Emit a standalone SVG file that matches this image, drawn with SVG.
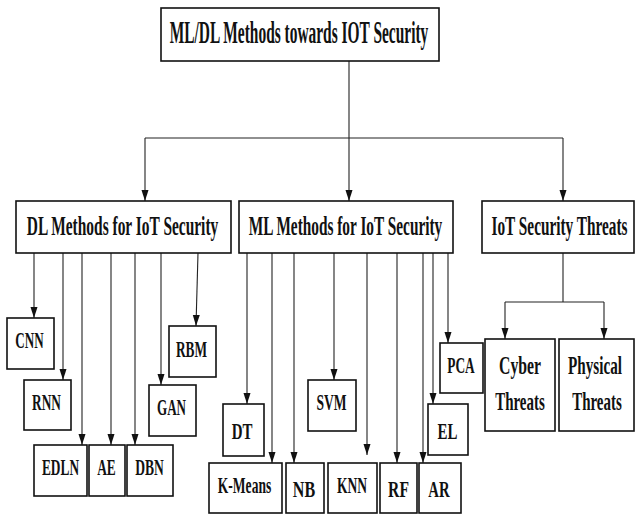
<svg xmlns="http://www.w3.org/2000/svg" width="635" height="515" viewBox="0 0 635 515">
<style>
.box{fill:#fff;stroke:#111;stroke-width:1.6}
.t{font-family:"Liberation Serif","Times New Roman",serif;font-weight:bold;fill:#111;text-anchor:middle}
.h1{font-size:31px}
.h2{font-size:27px}
.c{font-size:23px}
.c2{font-size:25px}
.ln{fill:none;stroke:#222;stroke-width:1.1}
.ar{marker-end:url(#ah)}
</style>
<defs>
<marker id="ah" markerUnits="userSpaceOnUse" markerWidth="12" markerHeight="8" refX="11" refY="3.5" orient="auto">
<path d="M0,0 L11,3.5 L0,7 z" fill="#111"/>
</marker>
</defs>
<g id="connectors">
<path class="ln" d="M349,61 V138"/>
<path class="ln" d="M145,138 H563"/>
<path class="ln ar" d="M145,138 V201"/>
<path class="ln ar" d="M349,138 V201"/>
<path class="ln ar" d="M563,138 V201"/>
<path class="ln ar" d="M34,253 V318"/>
<path class="ln ar" d="M63,253 V380"/>
<path class="ln ar" d="M82,253 V445"/>
<path class="ln ar" d="M111,253 V445"/>
<path class="ln ar" d="M135,253 V445"/>
<path class="ln ar" d="M161,253 V385"/>
<path class="ln ar" d="M198,253 L196,326"/>
<path class="ln ar" d="M247,253 V404"/>
<path class="ln ar" d="M272,253 V463"/>
<path class="ln ar" d="M294,253 V463"/>
<path class="ln ar" d="M334,253 V380"/>
<path class="ln ar" d="M367,253 V455"/>
<path class="ln ar" d="M397,253 V463"/>
<path class="ln ar" d="M423,253 V463"/>
<path class="ln ar" d="M433,253 V404"/>
<path class="ln ar" d="M448,253 V343"/>
<path class="ln" d="M563,253 V302"/>
<path class="ln" d="M505,302 H604"/>
<path class="ln ar" d="M505,302 V339"/>
<path class="ln ar" d="M604,302 V339"/>
</g>
<g id="root"><rect class="box" x="161" y="8" width="278" height="53"/><text class="t h1" transform="translate(299,43) scale(0.498,1)">ML/DL Methods towards IOT Security</text></g>
<g id="dl"><rect class="box" x="16" y="201" width="215" height="52"/><text class="t h2" transform="translate(122.5,235) scale(0.572,1)">DL Methods for IoT Security</text></g>
<g id="ml"><rect class="box" x="239" y="201" width="214" height="52"/><text class="t h2" transform="translate(345.5,235) scale(0.568,1)">ML Methods for IoT Security</text></g>
<g id="threats"><rect class="box" x="482" y="201" width="152" height="52"/><text class="t h2" transform="translate(559.5,235) scale(0.567,1)">IoT Security Threats</text></g>
<g id="cnn"><rect class="box" x="7" y="318" width="47" height="51"/><text class="t c" transform="translate(29.5,348) scale(0.57,1)">CNN</text></g>
<g id="rnn"><rect class="box" x="24" y="380" width="47" height="50"/><text class="t c" transform="translate(46.5,410) scale(0.58,1)">RNN</text></g>
<g id="edln"><rect class="box" x="34" y="445" width="53" height="51"/><text class="t c" transform="translate(60.5,475) scale(0.58,1)">EDLN</text></g>
<g id="ae"><rect class="box" x="89" y="445" width="36" height="51"/><text class="t c" transform="translate(106.5,475) scale(0.58,1)">AE</text></g>
<g id="dbn"><rect class="box" x="127" y="445" width="46" height="51"/><text class="t c" transform="translate(149.5,475) scale(0.59,1)">DBN</text></g>
<g id="gan"><rect class="box" x="149" y="385" width="47" height="51"/><text class="t c" transform="translate(171.5,415) scale(0.57,1)">GAN</text></g>
<g id="rbm"><rect class="box" x="169" y="326" width="47" height="51"/><text class="t c" transform="translate(191.5,357) scale(0.58,1)">RBM</text></g>
<g id="dt"><rect class="box" x="223" y="404" width="41" height="52"/><text class="t c" transform="translate(242,439) scale(0.65,1)">DT</text></g>
<g id="kmeans"><rect class="box" x="209" y="463" width="73" height="50"/><text class="t c" transform="translate(244.5,493) scale(0.59,1)">K-Means</text></g>
<g id="nb"><rect class="box" x="286" y="463" width="38" height="50"/><text class="t c" transform="translate(304,497) scale(0.7,1)">NB</text></g>
<g id="knn"><rect class="box" x="328" y="463" width="49" height="50"/><text class="t c" transform="translate(352,493) scale(0.59,1)">KNN</text></g>
<g id="rf"><rect class="box" x="380" y="463" width="37" height="50"/><text class="t c" transform="translate(398.5,497) scale(0.68,1)">RF</text></g>
<g id="ar"><rect class="box" x="419" y="463" width="42" height="50"/><text class="t c" transform="translate(439,497) scale(0.64,1)">AR</text></g>
<g id="svm"><rect class="box" x="308" y="380" width="48" height="51"/><text class="t c" transform="translate(331.5,410) scale(0.59,1)">SVM</text></g>
<g id="el"><rect class="box" x="428" y="404" width="40" height="51"/><text class="t c" transform="translate(447.5,439) scale(0.65,1)">EL</text></g>
<g id="pca"><rect class="box" x="440" y="343" width="43" height="50"/><text class="t c" transform="translate(461,373) scale(0.58,1)">PCA</text></g>
<g id="cyber"><rect class="box" x="485" y="339" width="70" height="92"/><text class="t c2" transform="translate(520,374) scale(0.63,1)">Cyber</text><text class="t c2" transform="translate(520,410) scale(0.6,1)">Threats</text></g>
<g id="physical"><rect class="box" x="559" y="339" width="75" height="92"/><text class="t c2" transform="translate(595,374) scale(0.607,1)">Physical</text><text class="t c2" transform="translate(597,410) scale(0.6,1)">Threats</text></g>
</svg>
